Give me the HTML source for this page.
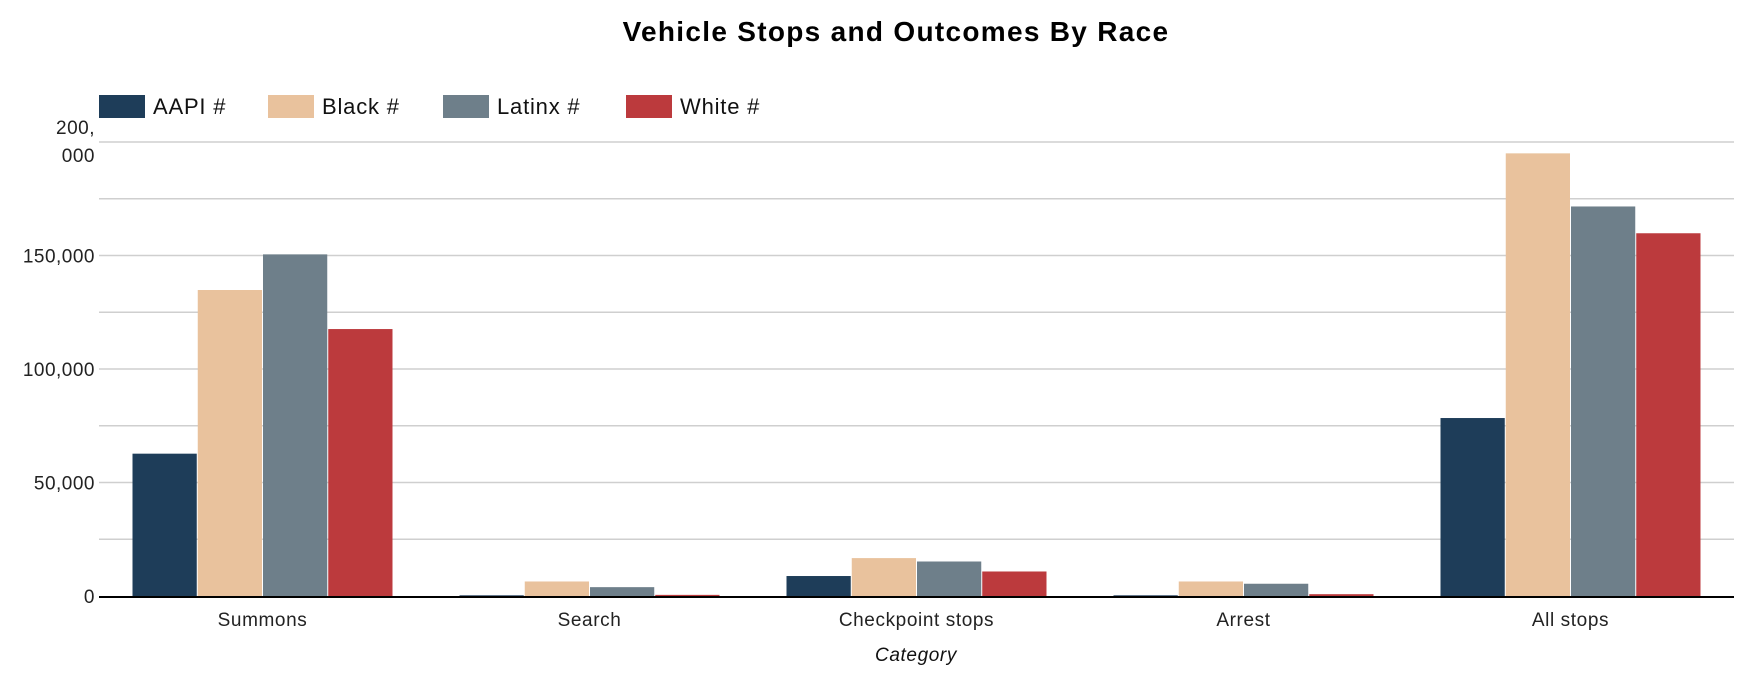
<!DOCTYPE html>
<html><head><meta charset="utf-8"><style>
body{margin:0;background:#fff;width:1756px;height:676px;overflow:hidden;font-family:"Liberation Sans",sans-serif}
</style></head><body>
<svg id="chart" width="1756" height="676" xmlns="http://www.w3.org/2000/svg">
<text x="896" y="41" text-anchor="middle" font-size="28" font-weight="bold" letter-spacing="1.3" fill="#000">Vehicle Stops and Outcomes By Race</text>
<g id="legend"></g>
<g id="grid"></g>
<g id="bars"></g>
<g id="axes"></g>
<text x="916" y="661" text-anchor="middle" font-size="19" font-style="italic" letter-spacing="0.6" fill="#111">Category</text>
</svg>
<script>
const categories = ["Summons","Search","Checkpoint stops","Arrest","All stops"];
const seriesNames = ["AAPI #","Black #","Latinx #","White #"];
const aapi = [62700, 300, 8800, 300, 78400];
const black = [134800, 6400, 16700, 6400, 195000];
const latinx = [150500, 3900, 15200, 5400, 171600];
const white = [117600, 500, 10800, 800, 159800];
const yTicks = [0, 50000, 100000, 150000, 200000];
const yTickLabels = ["0","50,000","100,000","150,000","200,"];
const series = [aapi, black, latinx, white];
const colors = ["#1e3d59","#e9c29d","#6e7f8a","#bc3a3d"];
const NS = "http://www.w3.org/2000/svg";
const X0 = 99, X1 = 1734, Y0 = 596, YTOP = 142, YMAX = 200000;
const y = v => Y0 - (v / YMAX) * (Y0 - YTOP);
const band = (X1 - X0) / categories.length;
const pad = 33;
const bw = (band - 2 * pad) / series.length;
function mk(tag, attrs, parent){const e=document.createElementNS(NS,tag);for(const k in attrs)e.setAttribute(k,attrs[k]);parent.appendChild(e);return e;}
const grid = document.getElementById('grid');
for (let v = 25000; v <= YMAX; v += 25000) {
  const l = mk('line',{x1:X0,x2:X1,y1:y(v),y2:y(v),stroke:'#cfcfcf','stroke-width':1.5},grid);
  
  
}
const axes = document.getElementById('axes');
yTicks.forEach((v,i)=>{
  const t = mk('text',{x:95,y:y(v)+7,'text-anchor':'end','font-size':19,'letter-spacing':0.5,fill:'#222'},axes);
  t.textContent = yTickLabels[i];
  
  
  if (v === YMAX) {
    t.setAttribute('y', y(v) - 8);
    const t2 = mk('text',{x:95,y:y(v)+20,'text-anchor':'end','font-size':19,'letter-spacing':0.5,fill:'#222'},axes);
    t2.textContent = "000";
    
    
  }
});
const bars = document.getElementById('bars');
categories.forEach((c,ci)=>{
  series.forEach((s,si)=>{
    const x = X0 + ci*band + pad + si*bw;
    const r = mk('rect',{x:x+0.5,y:y(s[ci]),width:bw-1,height:Y0-y(s[ci]),fill:colors[si]},bars);
    
    
  });
  const t = mk('text',{x:X0+ci*band+band/2,y:626,'text-anchor':'middle','font-size':19,'letter-spacing':0.6,fill:'#222'},axes);
  t.textContent = c;
  
  
});
const ax = mk('line',{x1:X0,x2:X1,y1:Y0+1,y2:Y0+1,stroke:'#000','stroke-width':2},axes);


const legend = document.getElementById('legend');
const lx = [99, 268, 443, 626];
seriesNames.forEach((n,i)=>{
  const r = mk('rect',{x:lx[i],y:95,width:46,height:23,fill:colors[i]},legend);
  
  
  const t = mk('text',{x:lx[i]+54,y:114,'font-size':22,'letter-spacing':0.8,fill:'#111'},legend);
  t.textContent = n;
  
  
});
</script>
</body></html>
